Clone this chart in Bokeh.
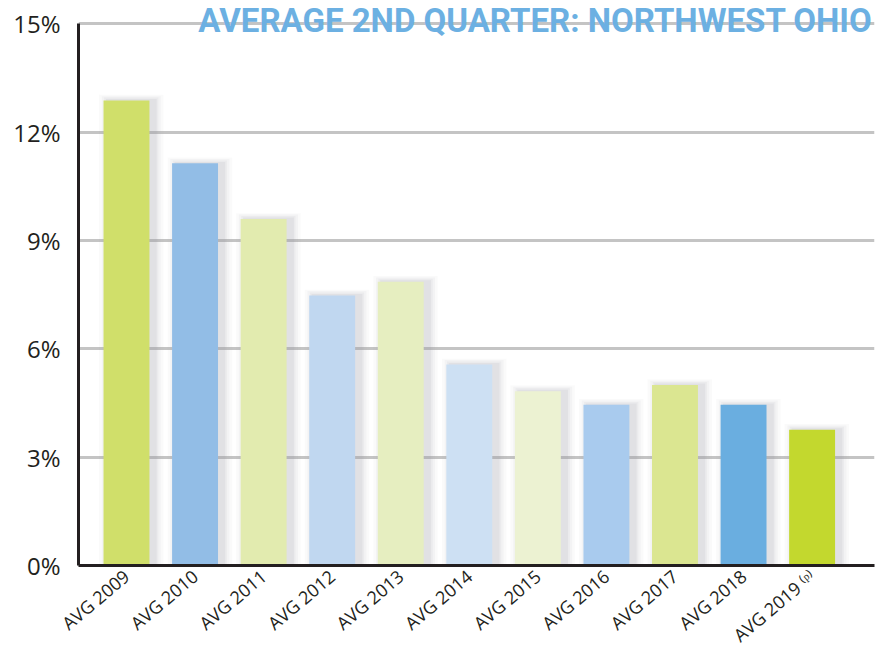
from bokeh.plotting import figure
from bokeh.models import Range1d, FixedTicker, Label
from bokeh.embed import file_html
from bokeh.resources import INLINE

categories = ["AVG 2009", "AVG 2010", "AVG 2011", "AVG 2012", "AVG 2013", "AVG 2014",
              "AVG 2015", "AVG 2016", "AVG 2017", "AVG 2018", "AVG 2019 ⁽ᵖ⁾"]
rates = [12.88, 11.14, 9.6, 7.48, 7.86, 5.57, 4.83, 4.45, 5.0, 4.45, 3.76]
bar_colors = ["#d0df6a", "#92bde6", "#e2ebaf", "#c0d7f0", "#e6eec0", "#cde0f3",
              "#ecf2d2", "#a9cbee", "#dbe691", "#6aaee0", "#c3d82e"]
y_ticks = [0, 3, 6, 9, 12, 15]
y_tick_labels = ["0%", "3%", "6%", "9%", "12%", "15%"]
title_text = "AVERAGE 2ND QUARTER: NORTHWEST OHIO"

xs = list(range(len(categories)))

p = figure(width=888, height=658, output_backend="svg", toolbar_location=None,
           x_range=Range1d(-0.70, 10.91), y_range=Range1d(0, 15.65),
           min_border_left=78, min_border_right=14, min_border_top=0, min_border_bottom=88)
p.outline_line_color = None
p.background_fill_color = "white"

# grid
p.xgrid.visible = False
p.ygrid.ticker = FixedTicker(ticks=y_ticks[1:])
p.ygrid.grid_line_color = "#c4c4c4"
p.ygrid.grid_line_width = 3

# soft shadows
for i, (w, a) in enumerate([(0.94, 0.05), (0.86, 0.07), (0.79, 0.09), (0.74, 0.12)]):
    p.vbar(x=[x + 0.07 for x in xs], top=[r + 0.16 - i * 0.04 for r in rates], width=w,
           bottom=0, color="#9a9ea3", alpha=a, line_color=None)

p.vbar(x=xs, top=rates, width=0.67, bottom=0, fill_color=bar_colors, line_color=None)

# axes
p.yaxis.ticker = FixedTicker(ticks=y_ticks)
p.yaxis.bounds = (y_ticks[0], y_ticks[-1])
p.yaxis.major_label_overrides = {t: l for t, l in zip(y_ticks, y_tick_labels)}
p.xaxis.ticker = FixedTicker(ticks=xs)
p.xaxis.major_label_overrides = {x: c for x, c in zip(xs, categories)}
for ax in (p.xaxis, p.yaxis):
    ax.axis_line_color = "#231f20"
    ax.axis_line_width = 3
    ax.major_tick_line_color = None
    ax.minor_tick_line_color = None
    ax.major_label_text_color = "#231f20"
    ax.major_label_text_font = "Open Sans"
p.yaxis.major_label_text_font_size = "24px"
p.yaxis.major_label_standoff = 12
p.xaxis.major_label_text_font_size = "18px"
p.xaxis.major_label_text_line_height = 0.9
p.xaxis.major_label_orientation = 0.70
p.xaxis.major_label_standoff = 2

title = Label(x=10.91, y=15, text=title_text, x_offset=-2, y_offset=3,
              text_align="right", text_baseline="alphabetic",
              text_font="Roboto", text_font_style="bold",
              text_font_size="33px", text_color="#6cb0e2")
p.add_layout(title)

open("out.html", "w").write(file_html(p, INLINE))
